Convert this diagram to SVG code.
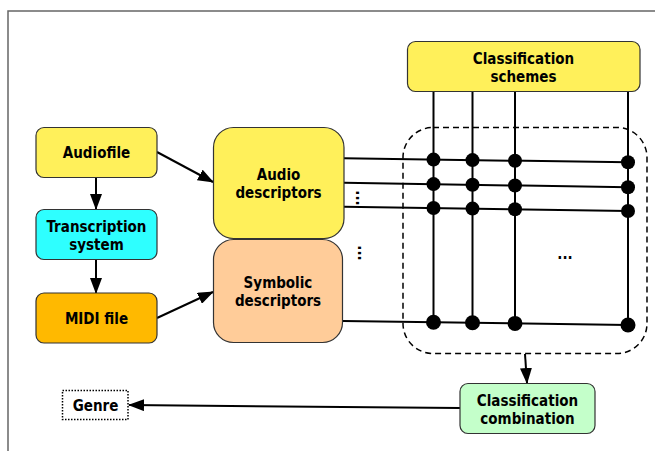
<svg xmlns="http://www.w3.org/2000/svg" width="655" height="451" viewBox="0 0 655 451">
<defs>
<style>
.box{stroke:#333;stroke-width:1.2}
.t{font-family:"DejaVu Sans Condensed","DejaVu Sans",sans-serif;font-stretch:condensed;font-weight:bold;font-size:15px;fill:#000;text-anchor:middle}
.ln{stroke:#000;stroke-width:2;fill:none}
.dot{fill:#000}
</style>
<marker id="ah" markerUnits="userSpaceOnUse" markerWidth="16" markerHeight="12" refX="15" refY="6" orient="auto">
<path d="M0,0 L16,6 L0,12 Z" fill="#000"/>
</marker>
</defs>
<rect width="655" height="451" fill="#fff"/>
<path d="M8,451 L8,11 L655,11" fill="none" stroke="#666" stroke-width="1.5"/>

<g id="connectors">
<line class="ln" x1="157" y1="152" x2="213" y2="182" marker-end="url(#ah)"/>
<line class="ln" x1="96" y1="178" x2="96" y2="209" marker-end="url(#ah)"/>
<line class="ln" x1="96" y1="260" x2="96" y2="293" marker-end="url(#ah)"/>
<line class="ln" x1="157" y1="318" x2="213" y2="292" marker-end="url(#ah)"/>
<line class="ln" x1="344" y1="158.3" x2="628" y2="162.3"/>
<line class="ln" x1="344" y1="182.7" x2="628" y2="187.3"/>
<line class="ln" x1="344" y1="206.7" x2="628" y2="211"/>
<line class="ln" x1="343" y1="321" x2="628" y2="325"/>
<line class="ln" x1="433.5" y1="91" x2="433.5" y2="322.3"/>
<line class="ln" x1="472.5" y1="91" x2="472.5" y2="322.8"/>
<line class="ln" x1="515" y1="91" x2="515" y2="323.4"/>
<line class="ln" x1="628" y1="91" x2="628" y2="325"/>
<line class="ln" x1="525" y1="354" x2="527" y2="383" marker-end="url(#ah)"/>
<line class="ln" x1="460" y1="408" x2="129" y2="405" marker-end="url(#ah)"/>
</g>

<g id="junctions">
<circle class="dot" cx="433.5" cy="159.6" r="7"/>
<circle class="dot" cx="472.5" cy="160.1" r="7"/>
<circle class="dot" cx="515" cy="160.7" r="7"/>
<circle class="dot" cx="628" cy="162.3" r="7"/>
<circle class="dot" cx="433.5" cy="184.1" r="7"/>
<circle class="dot" cx="472.5" cy="184.8" r="7"/>
<circle class="dot" cx="515" cy="185.5" r="7"/>
<circle class="dot" cx="628" cy="187.3" r="7"/>
<circle class="dot" cx="433.5" cy="208" r="7"/>
<circle class="dot" cx="472.5" cy="208.6" r="7"/>
<circle class="dot" cx="515" cy="209.3" r="7"/>
<circle class="dot" cx="628" cy="211" r="7"/>
<circle class="dot" cx="433.5" cy="322.3" r="7.5"/>
<circle class="dot" cx="472.5" cy="322.8" r="7.5"/>
<circle class="dot" cx="515" cy="323.4" r="7.5"/>
<circle class="dot" cx="628" cy="325" r="7.5"/>
</g>

<g id="combination-region">
<rect x="403" y="127.5" width="244" height="226" rx="30" ry="30" fill="none" stroke="#000" stroke-width="1.5" stroke-dasharray="6,4"/>
</g>

<g id="ellipses">
<text class="t" transform="translate(361,198) rotate(90)" y="5">...</text>
<text class="t" transform="translate(363,253) rotate(90)" y="5">...</text>
<text class="t" x="565" y="259">...</text>
</g>

<g id="classification-schemes">
<rect class="box" x="407.5" y="41.5" width="232.5" height="50" rx="8" fill="#fff05a"/>
<text class="t" x="523.5" y="64">Classification</text>
<text class="t" x="523.5" y="82">schemes</text>
</g>

<g id="audiofile">
<rect class="box" x="36" y="127.5" width="121" height="50" rx="8" fill="#fff05a"/>
<text class="t" x="96.5" y="158">Audiofile</text>
</g>

<g id="transcription-system">
<rect class="box" x="36" y="209.5" width="121" height="50" rx="8" fill="#2effff"/>
<text class="t" x="96.5" y="232">Transcription</text>
<text class="t" x="96.5" y="250">system</text>
</g>

<g id="midi-file">
<rect class="box" x="36" y="293" width="121" height="50" rx="8" fill="#ffb900"/>
<text class="t" x="96.5" y="324">MIDI file</text>
</g>

<g id="audio-descriptors">
<rect class="box" x="213.5" y="127.5" width="130.5" height="111" rx="20" fill="#fff05a"/>
<text class="t" x="278.5" y="180">Audio</text>
<text class="t" x="278.5" y="198">descriptors</text>
</g>

<g id="symbolic-descriptors">
<rect class="box" x="213.5" y="239.5" width="129" height="103" rx="20" fill="#ffcc99"/>
<text class="t" x="278" y="288">Symbolic</text>
<text class="t" x="278" y="306">descriptors</text>
</g>

<g id="classification-combination">
<rect class="box" x="460" y="383.5" width="135" height="50" rx="8" fill="#c4ffca"/>
<text class="t" x="527.5" y="405.5">Classification</text>
<text class="t" x="527.5" y="423.5">combination</text>
</g>

<g id="genre">
<rect x="62.5" y="390.5" width="65.5" height="29" fill="#fff" stroke="#000" stroke-width="1.5" stroke-dasharray="1.5,1.5"/>
<text class="t" x="95.5" y="411">Genre</text>
</g>
</svg>
